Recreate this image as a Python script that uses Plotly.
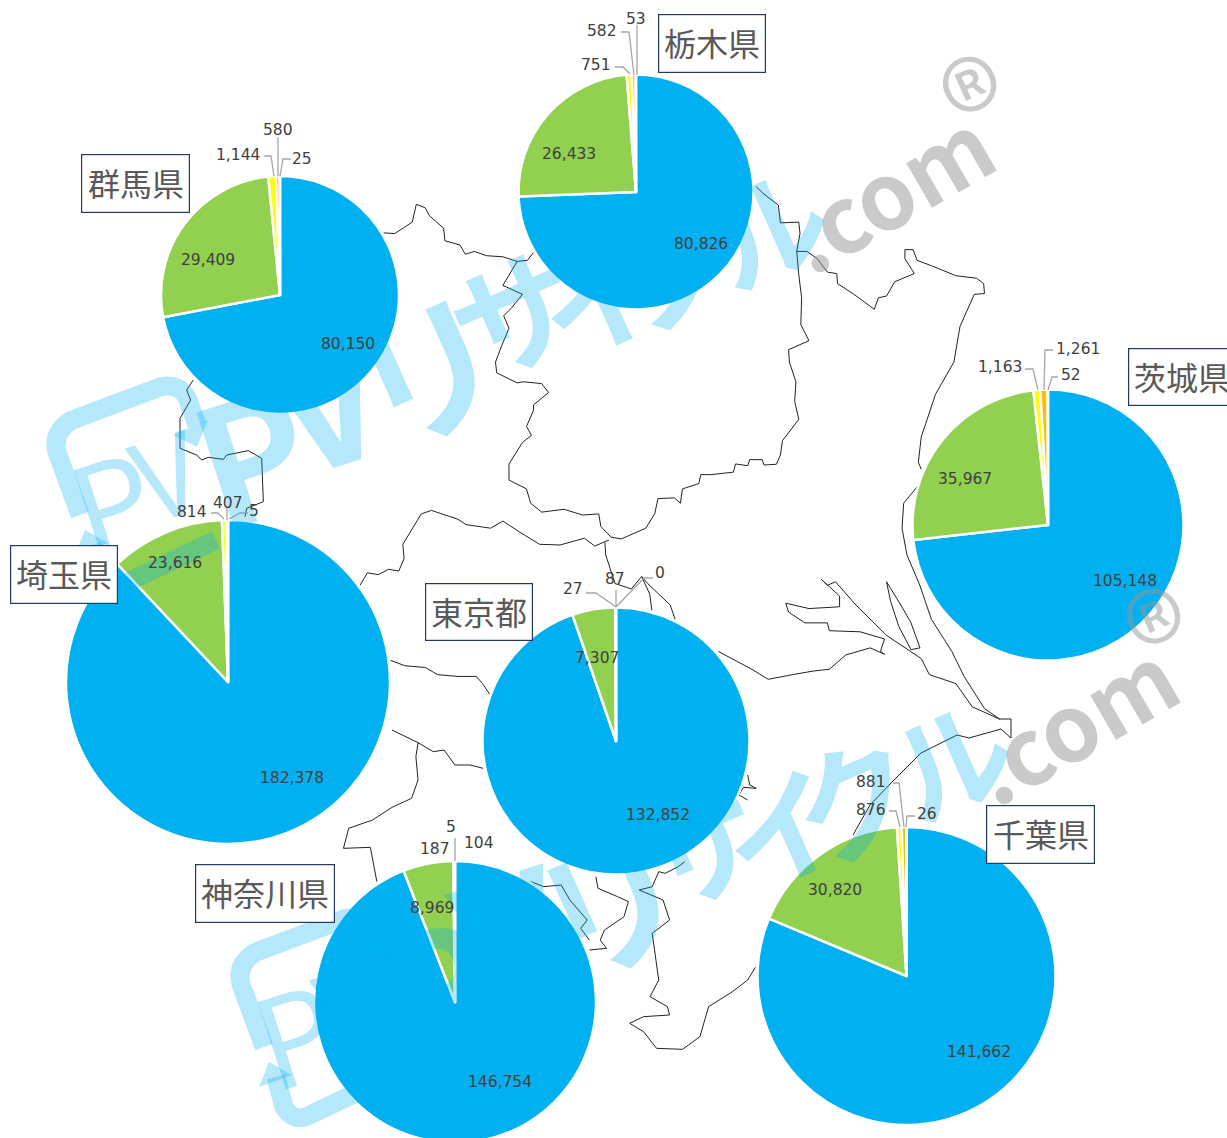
import plotly.graph_objects as go

W, H = 1227, 1150

# ---- data -------------------------------------------------------------
prefectures = ["栃木県", "群馬県", "茨城県", "埼玉県", "東京都", "神奈川県", "千葉県"]
blue_values = [80826, 80150, 105148, 182378, 132852, 146754, 141662]
green_values = [26433, 29409, 35967, 23616, 7307, 8969, 30820]
yellow_values = [751, 1144, 1163, 814, 27, 187, 876]
orange_values = [582, 580, 1261, 407, 87, 104, 881]
tiny_values = [53, 25, 52, 5, 0, 5, 26]

colors = ["#00B0F0", "#92D050", "#FFFF00", "#FFC000", "#ED7D31"]

# pie geometry in page pixels: centre x, centre y, radius
pie_geo = [(636, 192, 117.5), (280, 295, 119), (1048, 525, 135.5), (228, 682, 162),
           (616, 741, 133.5), (455, 1002, 141), (906.5, 976, 149)]

# label anchor points, in order blue, green, yellow, orange, tiny
label_pos = [
    [(701, 244), (569, 154), (596, 65), (602, 31), (636, 19)],
    [(348, 344), (208, 260), (238, 155), (278, 130), (302, 159)],
    [(1125, 581), (965, 479), (1000, 367), (1078, 349), (1071, 375)],
    [(292, 778), (175, 563), (192, 512), (228, 503), (254, 511)],
    [(658, 815), (597, 658), (573, 589), (615, 579), (660, 573)],
    [(500, 1082), (432, 908), (435, 849), (479, 843), (451, 827)],
    [(979, 1052), (835, 890), (871, 810), (871, 782), (927, 814)],
]
leaders = [
    [[(615, 67), (623, 67), (630, 74)], [(621, 32), (629, 32), (634, 75)], [(637, 25), (637, 75)]],
    [[(264, 156), (271, 156), (274, 176)], [(278, 137), (278, 176)], [(291, 159), (283, 159), (280, 176)]],
    [[(1025, 369), (1033, 369), (1038, 390)], [(1053, 350), (1045, 350), (1044, 390)], [(1058, 377), (1052, 377), (1048, 390)]],
    [[(211, 513), (218, 513), (224, 519)], [(227, 508), (227, 520)], [(248, 513), (240, 513), (229, 519)]],
    [[(586, 593), (596, 593), (616, 607)], [(616, 590), (616, 607)], [(653, 578), (644, 578), (616, 607)]],
    [[(455, 838), (455, 861)]],
    [[(889, 811), (896, 811), (900, 827)], [(893, 783), (899, 783), (904, 827)], [(915, 816), (907, 816), (906, 827)]],
]
title_boxes = [(658, 14, 766, 73), (81, 154, 190, 213), (1128, 348, 1236, 406), (10, 545, 118, 604),
               (425, 583, 533, 641), (195, 864, 335, 923), (986, 805, 1095, 864)]

# background map outline, traced in crop coordinates
crop0 = (0, 0, 1.0, 1.0)
crop1 = (360, 180, 2.45, 2.8)
crop2 = (340, 730, 2.306, 3.0)
crop3 = (0, 380, 3.0, 3.0)
map_segments = [
 (crop1, [(58,148),(85,150),(128,118),(138,68),(160,78),(170,100),(205,135),(208,170),(245,182),(258,208),(280,200),(310,212),(350,215),(385,228),(410,225),(425,203)]),
 (crop1, [(385,228),(350,295),(398,320),(370,360),(352,380),(365,415),(345,470),(332,510),(335,540),(385,568),(400,565),(445,570),(462,595),(425,630),(425,645),(408,690),(420,715),(398,735),(365,795),(365,840),(408,865),(418,905),(445,930),(500,922),(545,938),(585,935),(590,970),(615,1000),(640,1005),(700,975),(722,935),(730,892),(770,890),(785,905),(790,865),(830,850),(835,825),(860,825),(915,818),(920,795),(950,800),(955,783),(985,783),(990,798),(1020,796),(1030,770),(1035,730),(1075,670),(1065,620),(1068,565),(1052,510),(1050,475),(1100,450),(1080,405),(1082,330),(1075,265),(1070,200),(1078,150),(1075,118),(1030,120),(1025,70),(990,40),(970,18)]),
 (crop1, [(1070,200),(1095,200),(1120,220),(1145,258),(1168,262),(1170,290),(1210,320),(1260,362),(1270,330),(1290,325),(1310,285),(1358,262),(1335,220),(1335,195),(1355,195),(1365,225),(1400,240),(1460,268),(1510,275),(1528,290),(1530,318),(1505,320),(1470,410),(1455,510),(1410,600),(1375,720),(1368,790),(1375,810)]),
 (crop1, [(1368,855),(1350,880),(1332,905),(1328,975),(1340,1050),(1370,1130),(1400,1230),(1450,1320),(1480,1390),(1530,1480),(1568,1510)]),
 (crop1, [(1568,1510),(1500,1475),(1460,1410),(1395,1385),(1375,1340),(1290,1275),(1215,1190),(1165,1125),(1145,1135),(1130,1118),(1175,1165),(1175,1195),(1100,1200),(1043,1185),(1050,1210),(1090,1240),(1145,1240),(1150,1262),(1225,1265),(1285,1285),(1275,1320),(1285,1328),(1250,1310),(1190,1330),(1150,1370),(1110,1375),(1060,1385),(1000,1398),(960,1370),(878,1320)]),
 (crop1, [(1290,1125),(1300,1180),(1320,1250),(1350,1315),(1372,1310),(1350,1240),(1325,1190),(1290,1125)]),
 (crop1, [(0,1135),(18,1100),(45,1105),(70,1090),(95,1095),(108,1060),(105,1020),(150,935),(175,925),(240,950),(260,965),(320,975),(350,955),(390,985),(440,1020),(490,1022),(550,1003),(575,1025),(610,1008)]),
 (crop1, [(600,1015),(602,1050),(625,1130),(665,1145),(690,1110),(705,1130),(760,1190),(772,1230)]),
 (crop1, [(690,1110),(710,1160),(715,1205)]),
 (crop1, [(75,1345),(110,1360),(160,1365),(190,1385),(240,1390),(285,1390),(300,1410),(318,1440)]),
 (crop2, [(120,0),(180,38),(215,65),(240,60),(265,105),(300,105),(330,115)]),
 (crop2, [(180,38),(175,80),(180,150),(165,205),(120,232),(75,270),(20,295),(8,355),(70,352),(85,455)]),
 (crop2, [(440,455),(470,470),(510,465),(530,510),(570,570),(555,595),(575,630)]),
 (crop2, [(590,440),(595,475),(640,500),(665,515),(655,560),(610,600),(600,630),(615,655),(575,660)]),
 (crop2, [(795,395),(780,410),(750,430),(735,425),(720,470),(690,480),(745,510),(760,570),(720,610),(730,700),(735,750),(715,800),(755,830),(760,855),(700,860),(668,880),(700,905),(730,955),(790,958),(830,920),(850,830),(905,785),(940,750),(958,712)]),
 (crop0, [(853,835),(870,805),(890,784),(921,753),(957,735),(969,738),(1001,729),(1011,738),(1011,719),(1000,719)]),
 (crop2, [(940,135),(945,165),(960,175),(930,172),(920,195),(940,210)]),
 (crop3, [(580,0),(560,30),(572,60),(540,115),(540,205),(590,225),(605,240),(625,232),(670,238),(680,225),(745,212),(785,235),(790,365),(740,385),(735,410)]),
]

# watermark glyphs (text, x, y, size, weight, angle, colour key)
wm_glyphs = [
    ("P", 110, 497, 125, 400, -18, "b"), ("V", 165, 470, 110, 400, -18, "b"),
    ("P", 250, 448, 165, 700, -18, "b"), ("V", 325, 395, 165, 700, -18, "b"),
    ("リ", 425, 365, 150, 700, -24, "b"), ("サ", 512, 308, 125, 700, -24, "b"),
    ("イ", 596, 292, 118, 700, -24, "b"), ("ク", 668, 262, 125, 700, -24, "b"),
    ("ル", 765, 222, 118, 700, -24, "b"),
    (".com", 886, 187, 92, 700, -30, "g"), ("®", 976, 100, 125, 400, -24, "g"),
]
wm_shifts = [(0, 0), (184, 532)]
wm_frames = ["M 80,515 L 57,452 Q 52,432 72,420 L 160,387 Q 180,382 188,400 L 197,425",
             "M 92,545 L 100,575 Q 110,592 128,582 L 216,540"]
wm_arrows = ["M 173,435 L 208,420 L 197,447 Z", "M 75,555 L 85,530 L 108,543 Z"]
wm_colors = {"b": "rgba(0,176,240,0.29)", "g": "rgba(150,150,150,0.5)"}


def shifted(path, dx, dy):
    out = []
    for tok in path.split():
        if "," in tok:
            a, b = tok.split(",")
            out.append(f"{float(a)+dx},{float(b)+dy}")
        else:
            out.append(tok)
    return " ".join(out)


# ---- figure -----------------------------------------------------------
fig = go.Figure()

mx, my = [], []
for (ox, oy, sx, sy), pts in map_segments:
    for px, py in pts:
        mx.append(ox + px / sx)
        my.append(oy + py / sy)
    mx.append(None)
    my.append(None)
fig.add_trace(go.Scatter(x=mx, y=my, mode="lines", line=dict(color="#222222", width=1),
                         hoverinfo="skip", showlegend=False))

for i, name in enumerate(prefectures):
    cx, cy, r = pie_geo[i]
    fig.add_trace(go.Pie(
        values=[blue_values[i], green_values[i], yellow_values[i], orange_values[i], tiny_values[i]],
        labels=["a", "b", "c", "d", "e"], name=name,
        sort=False, direction="clockwise", rotation=0, textinfo="none", showlegend=False,
        marker=dict(colors=colors, line=dict(color="white", width=2.5)),
        domain=dict(x=[(cx - r) / W, (cx + r) / W], y=[1 - (cy + r) / H, 1 - (cy - r) / H]),
    ))

annotations, shapes = [], []
for dx, dy in wm_shifts:
    for t, x, y, size, weight, angle, key in wm_glyphs:
        annotations.append(dict(x=x + dx, y=y + dy, xref="x", yref="y", text=t, showarrow=False,
                                textangle=angle, xanchor="center", yanchor="middle",
                                font=dict(family="Noto Sans CJK JP", size=size, weight=weight,
                                          color=wm_colors[key])))
    for p in wm_frames:
        shapes.append(dict(type="path", path=shifted(p, dx, dy), xref="x", yref="y", layer="above",
                           line=dict(color=wm_colors["b"], width=19)))
    for p in wm_arrows:
        shapes.append(dict(type="path", path=shifted(p, dx, dy), xref="x", yref="y", layer="above",
                           fillcolor=wm_colors["b"], line=dict(width=0)))

for i, name in enumerate(prefectures):
    vals = [blue_values[i], green_values[i], yellow_values[i], orange_values[i], tiny_values[i]]
    for v, (x, y) in zip(vals, label_pos[i]):
        annotations.append(dict(x=x, y=y, xref="x", yref="y", text=f"{v:,}", showarrow=False,
                                font=dict(family="DejaVu Sans", size=15.5, color="#404040")))
    for line in leaders[i]:
        path = "M " + " L ".join(f"{a},{b}" for a, b in line)
        shapes.append(dict(type="path", path=path, xref="x", yref="y", layer="above",
                           line=dict(color="#A6A6A6", width=1.3)))
    x0, y0, x1, y1 = title_boxes[i]
    annotations.append(dict(x=(x0 + x1) / 2, y=(y0 + y1) / 2, xref="x", yref="y", text=" ",
                            showarrow=False, width=x1 - x0 - 2, height=y1 - y0 - 2,
                            bgcolor="white", bordercolor="#1F3864", borderwidth=1.2, borderpad=0,
                            font=dict(size=10)))
    annotations.append(dict(x=(x0 + x1) / 2, y=(y0 + y1) / 2 - 1.5, xref="x", yref="y", text=name,
                            showarrow=False, xanchor="center", yanchor="middle",
                            font=dict(family="Noto Sans CJK JP", size=32, color="#595959")))

fig.update_layout(
    width=W, height=H, margin=dict(l=0, r=0, t=0, b=0), paper_bgcolor="white", plot_bgcolor="white",
    xaxis=dict(range=[0, W], visible=False, fixedrange=True),
    yaxis=dict(range=[H, 0], visible=False, fixedrange=True),
    annotations=annotations, shapes=shapes, showlegend=False,
)
fig.write_html("out.html", config=dict(displayModeBar=False),
               post_script="document.body.style.margin='0';document.documentElement.style.overflow='hidden';document.body.style.overflow='hidden';")
